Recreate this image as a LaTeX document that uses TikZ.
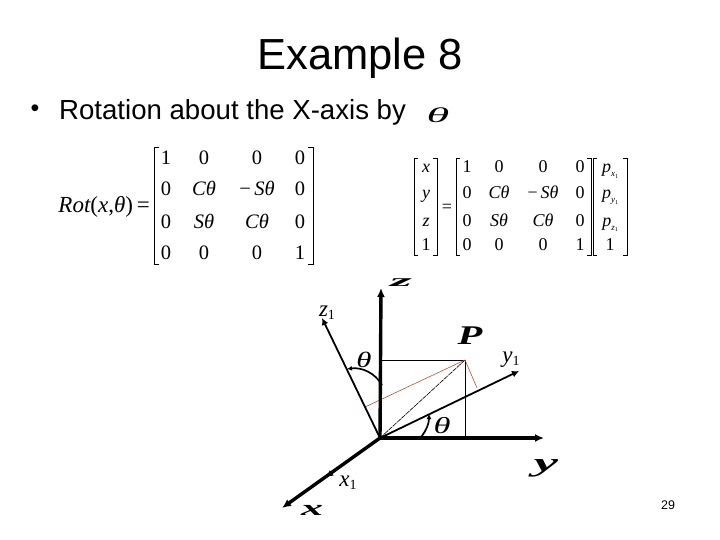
\documentclass[tikz,border=0pt]{standalone}
\usepackage{fontspec}
\setmainfont{Liberation Serif}
\newfontfamily\arialfont{Liberation Sans}
\usetikzlibrary{arrows.meta}
\definecolor{footred}{RGB}{176,84,52}
\newcommand{\symb}[3]{\scalebox{#2}[1]{\fontsize{#1}{#1}\selectfont\bfseries\itshape #3}}
\newcommand{\thetasym}[2]{\scalebox{#2}[1]{\fontsize{#1}{#1}\selectfont\itshape \char"03B8}}
\newcommand{\cth}{{\itshape C\char"03B8}}
\newcommand{\sth}{{\itshape S\char"03B8}}
\newcommand{\msth}{\char"2212\,{\itshape S\char"03B8}}
\newcommand{\sone}[1]{{\itshape #1}\raisebox{-3pt}{\fontsize{14}{14}\selectfont\upshape 1}}
\newcommand{\psub}[1]{{\itshape p}\raisebox{-4pt}{\fontsize{9}{9}\selectfont\itshape #1\raisebox{-1.5pt}{\fontsize{6}{6}\selectfont\upshape 1}}}
\tikzset{
    axis/.style = {line width=3.4pt, -{Latex[length=9pt,width=8pt]}},
    rotaxis/.style = {line width=1.8pt, -{Latex[length=7pt,width=7pt]}},
    angle/.style = {line width=1.7pt, -{Latex[length=5pt,width=5pt]}},
    bracket/.style = {line width=0.8pt},
    thin line/.style = {line width=0.6pt},
    foot/.style = {line width=0.6pt, footred},
    ent/.style = {inner sep=0pt, anchor=base, font=\fontsize{20.5}{21}\selectfont},
    entb/.style = {inner sep=0pt, anchor=base, font=\fontsize{18}{18}\selectfont},
    lab/.style = {inner sep=0pt, font=\fontsize{23}{23}\selectfont},
}
\begin{document}
\begin{tikzpicture}[x=1pt, y=-1pt]
    \useasboundingbox (0,0) rectangle (720,540);

    % title and bullet
    \node[inner sep=0pt, font=\arialfont\fontsize{43.5}{44}\selectfont] (title) at (360,58) {Example 8};
    \node[inner sep=0pt, font=\arialfont\fontsize{25}{26}\selectfont] (bullet) at (35,111) {•};
    \node[inner sep=0pt, anchor=west, font=\arialfont\fontsize{27.6}{28}\selectfont] (rottext) at (59,112) {Rotation about the X-axis by};
    \node[inner sep=0pt] (titletheta) at (438,115) {\thetasym{21}{2.2}};

    % first matrix
    \node[inner sep=0pt, anchor=base east, font=\fontsize{23}{23}\selectfont] (rotname) at (150,212) {\itshape Rot\upshape(\itshape x\upshape,\itshape \char"03B8\upshape)\,=};
    \foreach \r/\y/\a/\b/\c/\d in {1/165/1/0/0/0, 2/196/0/\cth/\msth/0, 3/229/0/\sth/\cth/0, 4/259/0/0/0/1} {
        \node[ent] (m\r a) at (166,\y) {\a};
        \node[ent] (m\r b) at (204,\y) {\b};
        \node[ent] (m\r c) at (257,\y) {\c};
        \node[ent] (m\r d) at (300,\y) {\d};
    }
    \draw[bracket] (159,147) -- (154,147) -- (154,264) -- (159,264);
    \draw[bracket] (308,147) -- (313,147) -- (313,264) -- (308,264);

    % second matrix
    \foreach \r/\y/\v/\a/\b/\c/\d/\p in {1/173/{\itshape x}/1/0/0/0/\psub{x}, 2/199/{\itshape y}/0/\cth/\msth/0/\psub{y}, 3/226/{\itshape z}/0/\sth/\cth/0/\psub{z}, 4/251/1/0/0/0/1/1} {
        \node[entb] (v\r) at (426,\y) {\v};
        \node[entb] (n\r a) at (467,\y) {\a};
        \node[entb] (n\r b) at (499,\y) {\b};
        \node[entb] (n\r c) at (543,\y) {\c};
        \node[entb] (n\r d) at (580,\y) {\d};
        \node[entb] (p\r) at (610,\y) {\p};
    }
    \node[entb] (eq) at (447,212) {=};
    \draw[bracket] (418,158) -- (414,158) -- (414,255) -- (418,255);
    \draw[bracket] (433,158) -- (437,158) -- (437,255) -- (433,255);
    \draw[bracket] (460,158) -- (456,158) -- (456,255) -- (460,255);
    \draw[bracket] (587,158) -- (591,158) -- (591,255) -- (587,255);
    \draw[bracket] (597,158) -- (593,158) -- (593,255) -- (597,255);
    \draw[bracket] (623,158) -- (627,158) -- (627,255) -- (623,255);

    % frame
    \coordinate (O) at (380,438);
    \coordinate (zend) at (381,288);
    \coordinate (yend) at (544,438);
    \coordinate (xend) at (282,508);
    \coordinate (zoneend) at (322,318);
    \coordinate (yoneend) at (519,371);
    \coordinate (xonetip) at (326,477);
    \coordinate (P) at (465,360);
    \coordinate (Pz) at (382,360);
    \coordinate (Py) at (465,437);
    \coordinate (Pzone) at (365,407);
    \coordinate (Pyone) at (477,388);

    \draw[thin line] (Pz) -- (P) -- (Py);
    \draw[thin line, dash pattern=on 5pt off 0.8pt] (O) -- (P);
    \draw[foot] (Pzone) -- (P) -- (Pyone);

    \draw[axis] (O) -- (zend);
    \draw[axis] (O) -- (yend);
    \draw[axis] (O) -- (xend);
    \draw[rotaxis] (O) -- (zoneend);
    \draw[rotaxis] (O) -- (yoneend);
    \draw[rotaxis] (O) -- (xonetip);

    % angles
    \draw[angle] (382,385) .. controls (375,373) and (362,367) .. (347,369);
    \draw[angle] (421,437) .. controls (426,431) and (429,424) .. (429,414);

    % labels
    \node[inner sep=0pt] (zlab) at (401,283) {\symb{17}{3.3}{z}};
    \node[inner sep=0pt] (ylab) at (546,468) {\symb{26}{2.1}{y}};
    \node[inner sep=0pt] (xlab) at (312,510) {\symb{22}{2}{x}};
    \node[inner sep=0pt] (Plab) at (470,336) {\symb{27}{1.5}{P}};
    \node[lab] (zonelab) at (327,313) {\sone{z}};
    \node[lab] (yonelab) at (511,360) {\sone{y}};
    \node[lab] (xonelab) at (348,483) {\sone{x}};
    \node[inner sep=0pt] (thetaone) at (364,360) {\thetasym{22}{1.4}};
    \node[inner sep=0pt] (thetatwo) at (442,426) {\thetasym{23}{1.5}};

    \node[inner sep=0pt, font=\arialfont\fontsize{12.5}{13}\selectfont] (pagenum) at (668,505) {29};
\end{tikzpicture}
\end{document}
